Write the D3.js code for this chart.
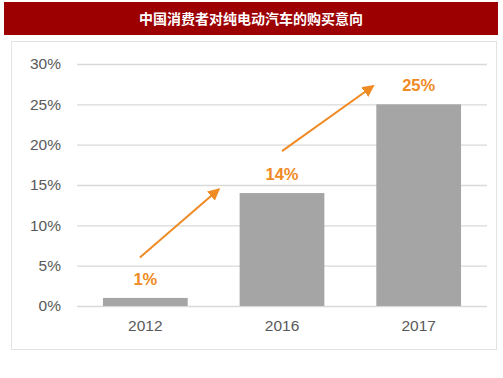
<!DOCTYPE html>
<html>
<head>
<meta charset="utf-8">
<script src="https://cdn.jsdelivr.net/npm/d3@7"></script>
<style>
  body { margin: 0; background: #fff; }
  svg { display: block; }
</style>
</head>
<body>
<div id="chart"></div>
<script>
// data
var years = ["2012", "2016", "2017"];
var intent = [1, 14, 25];
var yTicks = [0, 5, 10, 15, 20, 25, 30];
var title = "中国消费者对纯电动汽车的购买意向";
// trend arrows, in data units: [year, offset from band centre in steps, value]
var arrows = [
  {from: ["2012", -0.04, 6], to: ["2016", -0.46, 14.5]},
  {from: ["2016", 0.0, 19.2], to: ["2017", -0.33, 27.3]}
];

var W = 503, H = 378;
var orange = "#f08a24";

var svg = d3.select("#chart")
  .append("svg")
    .attr("width", W)
    .attr("height", H);

// title bar
svg.append("rect")
  .attr("x", 4).attr("y", 2)
  .attr("width", 494).attr("height", 33)
  .attr("fill", "#9c0000");
svg.append("text")
  .attr("x", 251).attr("y", 23.5)
  .attr("text-anchor", "middle")
  .attr("fill", "#fff")
  .attr("font-family", "'Noto Sans CJK SC', sans-serif")
  .attr("font-weight", "bold")
  .attr("font-size", 14)
  .text(title);

// frame
svg.append("rect")
  .attr("x", 11.5).attr("y", 41.5)
  .attr("width", 485).attr("height", 308)
  .attr("fill", "none")
  .attr("stroke", "#e3e3e3");

var x = d3.scaleBand()
  .domain(years)
  .range([77, 487])
  .paddingInner(0.38)
  .paddingOuter(0.19);

var y = d3.scaleLinear()
  .domain([0, 30])
  .range([306, 64]);

var font = "'Liberation Sans', Arial, sans-serif";

// gridlines + y labels
var yAxis = svg.append("g")
  .attr("transform", "translate(77,0)")
  .call(d3.axisLeft(y).tickValues(yTicks).tickSize(-410).tickFormat(function(d) { return d + "%"; }).tickPadding(16));
yAxis.select(".domain").remove();
yAxis.selectAll("line").attr("stroke", "#d9d9d9").attr("stroke-width", 1.3);
yAxis.selectAll("text")
  .attr("fill", "#595959")
  .attr("font-family", font)
  .attr("font-size", 15.5);

// bars
svg.append("g")
  .selectAll("rect")
  .data(intent)
  .enter().append("rect")
    .attr("x", function(d, i) { return x(years[i]); })
    .attr("y", function(d) { return y(d); })
    .attr("width", x.bandwidth())
    .attr("height", function(d) { return y(0) - y(d); })
    .attr("fill", "#a5a5a5");

// value labels
svg.append("g")
  .selectAll("text")
  .data(intent)
  .enter().append("text")
    .attr("x", function(d, i) { return x(years[i]) + x.bandwidth() / 2; })
    .attr("y", function(d) { return y(d) - 13; })
    .attr("text-anchor", "middle")
    .attr("fill", orange)
    .attr("font-family", font)
    .attr("font-weight", "bold")
    .attr("font-size", 16.5)
    .text(function(d) { return d + "%"; });

// x labels
var xAxis = svg.append("g")
  .attr("transform", "translate(0,306)")
  .call(d3.axisBottom(x).tickSize(0).tickPadding(14));
xAxis.select(".domain").remove();
xAxis.selectAll("text")
  .attr("fill", "#595959")
  .attr("font-family", font)
  .attr("font-size", 15.5);

// arrows
svg.append("defs").append("marker")
  .attr("id", "head")
  .attr("viewBox", "0 0 10 10")
  .attr("refX", 9).attr("refY", 5)
  .attr("markerWidth", 6).attr("markerHeight", 6)
  .attr("markerUnits", "strokeWidth")
  .attr("orient", "auto")
  .append("path")
    .attr("d", "M0,0L10,5L0,10z")
    .attr("fill", orange);

function px(p) { return x(p[0]) + x.bandwidth() / 2 + p[1] * x.step(); }

svg.append("g")
  .selectAll("line")
  .data(arrows)
  .enter().append("line")
    .attr("x1", function(d) { return px(d.from); })
    .attr("y1", function(d) { return y(d.from[2]); })
    .attr("x2", function(d) { return px(d.to); })
    .attr("y2", function(d) { return y(d.to[2]); })
    .attr("stroke", orange)
    .attr("stroke-width", 2)
    .attr("marker-end", "url(#head)");
</script>
</body>
</html>
